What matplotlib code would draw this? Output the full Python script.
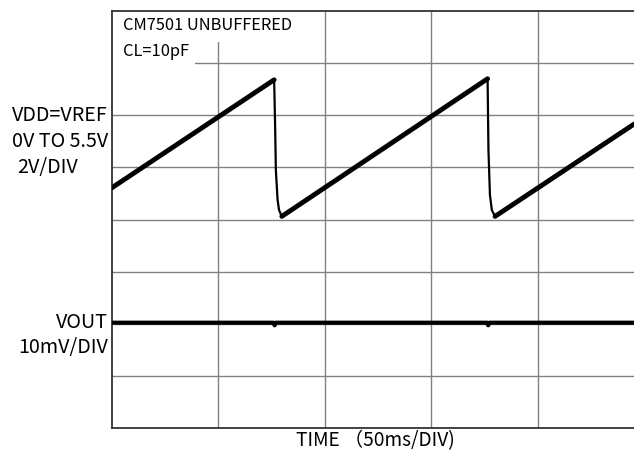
import matplotlib
matplotlib.use("Agg")
import matplotlib.pyplot as plt
from matplotlib.patches import Rectangle

plt.rcParams["font.family"] = ["Noto Sans CJK SC", "DejaVu Sans"]

# scope settings
MS_PER_DIV = 50.0
V_PER_DIV = 2.0
MV_PER_DIV = 10.0
VDD_ZERO_DIV = 4.0     # where 0 V sits on the screen
VOUT_ZERO_DIV = 2.02   # VOUT trace position
N_ROWS = 8
X_MAX_DIV = 4.906      # screen is cut off on the right

# VDD ramps (time in ms, volts)
ramp_t = [[0.0, 76.2], [79.8, 176.5], [180.0, 245.3]]
ramp_v = [[1.22, 5.36], [0.12, 5.40], [0.12, 3.66]]

# VDD falling edges
fall_t = [[76.2, 76.6, 77.0, 77.8, 78.5, 79.8],
          [176.5, 176.9, 177.6, 178.5, 180.0]]
fall_v = [[5.36, 3.82, 1.90, 0.76, 0.36, 0.12],
          [5.40, 2.68, 0.94, 0.36, 0.12]]

# VOUT (ms, mV) - flat with small glitches at the VDD drops
vout_t = [0.0, 76.0, 76.4, 77.0, 176.4, 176.8, 177.4, 245.3]
vout_mv = [0.0, 0.0, -0.5, 0.0, 0.0, -0.5, 0.0, 0.0]

left_labels = ["VDD=VREF", "0V TO 5.5V", "2V/DIV"]
vout_labels = ["VOUT", "10mV/DIV"]
title_lines = ["CM7501 UNBUFFERED", "CL=10pF"]
xlabel = "TIME （50ms/DIV)"

fig = plt.figure(figsize=(6.34, 4.54), dpi=100)
W, H = 634.0, 454.0
ax = fig.add_axes([112 / W, 1 - 428 / H, (634 - 112) / W, (428 - 11) / H])
ax.set_xlim(0, X_MAX_DIV)
ax.set_ylim(0, N_ROWS)

grid_c = "#808080"
for i in range(1, 5):
    ax.axvline(i, color=grid_c, lw=1.0, zorder=1)
for j in range(1, N_ROWS):
    ax.axhline(j, color=grid_c, lw=1.0, zorder=1)

# white label boxes that cover the grid
ax.add_patch(Rectangle((0, 7.41), 1.77, 0.59, fc="white", ec="none", zorder=1.5))
ax.add_patch(Rectangle((0, 6.97), 0.78, 0.44, fc="white", ec="none", zorder=1.5))
ax.text(0.1, 7.72, title_lines[0], fontsize=11.8, fontweight="medium",
        va="center", zorder=4)
ax.text(0.1, 7.22, title_lines[1], fontsize=11.8, fontweight="medium",
        va="center", zorder=4)


def to_x(t):
    return [v / MS_PER_DIV for v in t]


def to_vdd(vs):
    return [VDD_ZERO_DIV + v / V_PER_DIV for v in vs]


for t, v in zip(ramp_t, ramp_v):
    ax.plot(to_x(t), to_vdd(v), color="black", lw=3.5,
            solid_capstyle="round", zorder=3)
for t, v in zip(fall_t, fall_v):
    ax.plot(to_x(t), to_vdd(v), color="black", lw=1.6,
            solid_joinstyle="round", zorder=3)

ax.plot(to_x(vout_t), [VOUT_ZERO_DIV + m / MV_PER_DIV for m in vout_mv],
        color="black", lw=3.0, zorder=3)

for s in ["left", "bottom", "top"]:
    ax.spines[s].set_color("#333333")
    ax.spines[s].set_linewidth(1.3)
ax.spines["right"].set_visible(False)
ax.set_xticks([])
ax.set_yticks([])

fs = 14.2
kw = dict(fontsize=fs, fontweight="medium", va="center")
fig.text(108 / W, 1 - 115 / H, left_labels[0], ha="right", **kw)
fig.text(108 / W, 1 - 141 / H, left_labels[1], ha="right", **kw)
fig.text(17 / W, 1 - 167 / H, left_labels[2], ha="left", **kw)
fig.text(108 / W, 1 - 322 / H, vout_labels[0], ha="right", **kw)
fig.text(108 / W, 1 - 348 / H, vout_labels[1], ha="right", **kw)
fig.text(375 / W, 1 - 441 / H, xlabel, ha="center", fontsize=13.8,
         fontweight="medium", va="center")

fig.savefig("out.png", dpi=100)
